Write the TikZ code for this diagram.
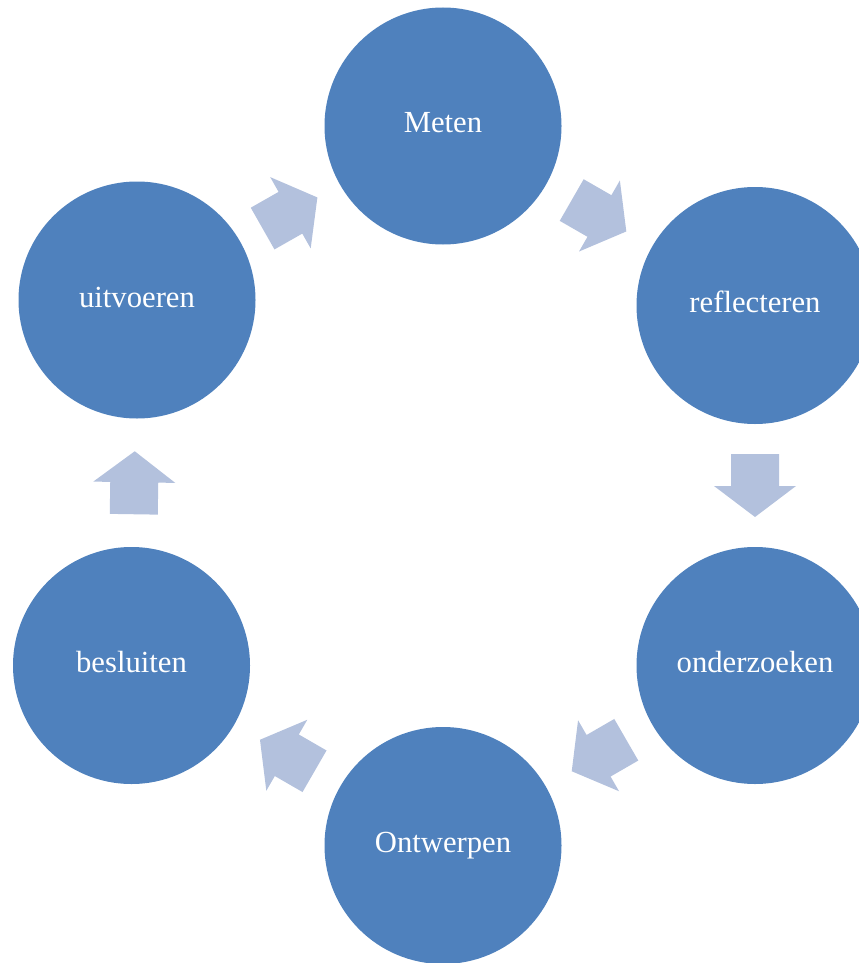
\documentclass[tikz,border=0pt]{standalone}
\usepackage{fontspec}
\setmainfont{Liberation Serif}
\usetikzlibrary{calc}
\definecolor{stageblue}{HTML}{4F81BD}
\definecolor{arrowblue}{HTML}{B3C1DD}
\tikzset{
  stage/.style={circle, fill=stageblue, draw=none, minimum size=177.75pt, inner sep=0pt,
    text=white, font=\fontsize{23}{27}\selectfont, text height=10.5pt, text depth=0pt},
  blockarrow/.style={fill=arrowblue, draw=none}
}
\newcommand\cyclearrow[3]{%
  \begin{scope}[shift={($(#1)!0.5!(#2)$)}, rotate=#3]
    \fill[blockarrow] (-31.5,-24) -- (0.5,-24) -- (0.5,-41) -- (31.5,0) -- (0.5,41) -- (0.5,24) -- (-31.5,24) -- cycle;
  \end{scope}}
\begin{document}
\begin{tikzpicture}[x=0.75pt, y=-0.75pt]
\useasboundingbox (0,0) rectangle (858,963);
\node[stage] (M) at (443,126) {Meten};
\node[stage] (R) at (755,305.5) {reflecteren};
\node[stage] (O) at (755,665.5) {onderzoeken};
\node[stage] (W) at (443,845.5) {Ontwerpen};
\node[stage] (B) at (131.5,665.5) {besluiten};
\node[stage] (U) at (137,300) {uitvoeren};
\cyclearrow{M}{R}{-29.9}
\cyclearrow{R}{O}{-90}
\cyclearrow{O}{W}{-150}
\cyclearrow{W}{B}{150}
\cyclearrow{B}{U}{89.1}
\cyclearrow{U}{M}{29.6}
\end{tikzpicture}
\end{document}
